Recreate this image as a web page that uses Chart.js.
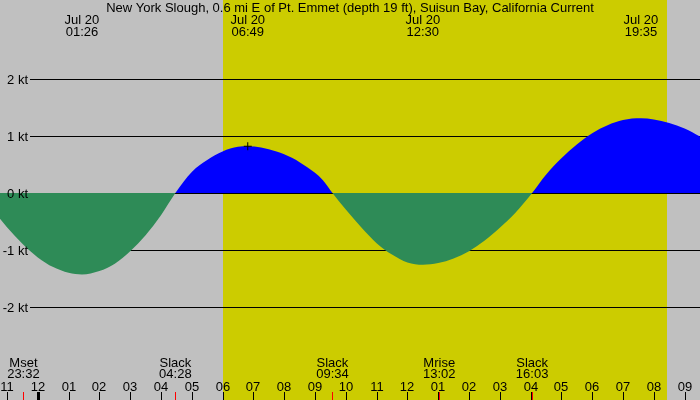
<!DOCTYPE html>
<html>
<head>
<meta charset="utf-8">
<script src="https://cdn.jsdelivr.net/npm/chart.js@4/dist/chart.umd.min.js"></script>
<style>
  body { margin: 0; background: #c0c0c0; }
  canvas { display: block; }
</style>
</head>
<body>
<canvas id="tideChart" width="700" height="400"></canvas>
<script>
const title = 'New York Slough, 0.6 mi E of Pt. Emmet (depth 19 ft), Suisun Bay, California Current';

// hours after midnight Jul 20, current in knots (+ flood, - ebb)
const hours  = [-1.227, -1.0, -0.5, 0, 0.5, 1.0, 1.433, 2.0, 2.5, 3.0, 3.5, 4.0, 4.467,
                5.0, 5.5, 6.0, 6.5, 6.817, 7.25, 7.75, 8.25, 8.75, 9.25, 9.567,
                10.0, 10.5, 11.0, 11.5, 12.0, 12.5, 13.0, 13.5, 14.0, 14.5, 15.0, 15.5, 16.05,
                16.5, 17.0, 17.5, 18.0, 18.5, 19.0, 19.583, 20.0, 20.5, 21.0, 21.5];
const speeds = [-0.45, -0.60, -0.89, -1.13, -1.30, -1.40, -1.43, -1.37, -1.24, -1.02, -0.74, -0.39, 0,
                0.37, 0.58, 0.73, 0.81, 0.82, 0.80, 0.73, 0.62, 0.45, 0.23, 0,
                -0.29, -0.60, -0.88, -1.08, -1.22, -1.26, -1.23, -1.15, -1.02, -0.84, -0.61, -0.35, 0,
                0.32, 0.61, 0.85, 1.05, 1.19, 1.28, 1.31, 1.29, 1.23, 1.13, 0.99];
const markIndex = 17; // the little + on the 06:49 flood

const peakDate = 'Jul 20';
const peakTimes = ['01:26', '06:49', '12:30', '19:35'];

const eventNames = ['Mset', 'Slack', 'Slack', 'Mrise', 'Slack'];
const eventTimes = ['23:32', '04:28', '09:34', '13:02', '16:03'];
const eventDays  = [-1, 0, 0, 0, 0];

const sunrise = 6.01;
const sunset = 20.43;

const ktTicks = [-2, -1, 0, 1, 2];
const hourStart = -1;
const hourLabels = ['11', '12', '01', '02', '03', '04', '05', '06', '07', '08', '09', '10',
                    '11', '12', '01', '02', '03', '04', '05', '06', '07', '08', '09'];

const FONT = '13px "Liberation Sans", Arial, sans-serif';

function toHours(t, day) {
  const p = t.split(':');
  return (day || 0) * 24 + parseInt(p[0], 10) + parseInt(p[1], 10) / 60;
}

const backdrop = {
  id: 'backdrop',
  beforeDraw(chart) {
    const ctx = chart.ctx;
    const x = chart.scales.x;
    ctx.save();
    ctx.fillStyle = '#c0c0c0';
    ctx.fillRect(0, 0, chart.width, chart.height);
    ctx.fillStyle = '#cccc00';
    const x0 = Math.round(x.getPixelForValue(sunrise));
    const x1 = Math.round(x.getPixelForValue(sunset));
    ctx.fillRect(x0, 0, x1 - x0, chart.height);
    ctx.restore();
  },
  beforeDatasetsDraw(chart) {
    const ctx = chart.ctx;
    const y = chart.scales.y;
    ctx.save();
    ctx.strokeStyle = '#000';
    ctx.lineWidth = 1;
    ktTicks.forEach(v => {
      const py = Math.round(y.getPixelForValue(v)) + 0.5;
      ctx.beginPath();
      ctx.moveTo(30, py);
      ctx.lineTo(chart.width, py);
      ctx.stroke();
    });
    ctx.restore();
  }
};

const labels = {
  id: 'labels',
  afterDraw(chart) {
    const ctx = chart.ctx;
    const x = chart.scales.x;
    const y = chart.scales.y;
    const H = chart.height;
    ctx.save();
    ctx.font = FONT;
    ctx.fillStyle = '#000';
    ctx.textBaseline = 'alphabetic';

    ctx.textAlign = 'center';
    ctx.fillText(title, 350, 12);

    peakTimes.forEach(t => {
      const px = x.getPixelForValue(toHours(t));
      ctx.fillText(peakDate, px, 24);
      ctx.fillText(t, px, 36);
    });

    ctx.textAlign = 'right';
    ktTicks.forEach(v => {
      ctx.fillText(v + ' kt', 28, Math.round(y.getPixelForValue(v)) + 5);
    });

    ctx.textAlign = 'center';
    eventNames.forEach((name, i) => {
      const px = x.getPixelForValue(toHours(eventTimes[i], eventDays[i]));
      ctx.fillText(name, px, 367);
      ctx.fillText(eventTimes[i], px, 378);
    });

    hourLabels.forEach((lab, i) => {
      const h = hourStart + i;
      const px = Math.round(x.getPixelForValue(h));
      ctx.fillText(lab, px, 391);
      if (h % 24 === 0) {
        ctx.fillRect(px - 1, 392, 3, H - 392);
      } else {
        ctx.fillRect(px, 392, 1, H - 392);
      }
    });

    ctx.fillStyle = '#ff0000';
    eventTimes.forEach((t, i) => {
      const px = Math.round(x.getPixelForValue(toHours(t, eventDays[i])));
      ctx.fillRect(px, 392, 1, H - 392);
    });
    ctx.restore();
  }
};

const ctx = document.getElementById('tideChart').getContext('2d');

const tideChart = new Chart(ctx, {
  type: 'line',
  data: {
    datasets: [{
      data: [{ x: hours[markIndex], y: speeds[markIndex] }],
      showLine: false,
      pointStyle: 'cross',
      pointRadius: 4,
      borderColor: '#000',
      borderWidth: 1,
      order: 0
    }, {
      data: hours.map((h, i) => ({ x: h, y: speeds[i] })),
      borderWidth: 0,
      borderColor: 'rgba(0,0,0,0)',
      pointRadius: 0,
      cubicInterpolationMode: 'monotone',
      fill: { target: 'origin', above: '#0000ff', below: '#2e8b57' },
      order: 1
    }]
  },
  options: {
    responsive: false,
    animation: false,
    devicePixelRatio: 1,
    layout: { padding: 0, autoPadding: false },
    plugins: {
      legend: { display: false },
      tooltip: { enabled: false }
    },
    scales: {
      x: { type: 'linear', min: -1.227, max: 21.5, display: false },
      y: { min: -3.632, max: 3.386, display: false }
    }
  },
  plugins: [backdrop, labels]
});
</script>
</body>
</html>
